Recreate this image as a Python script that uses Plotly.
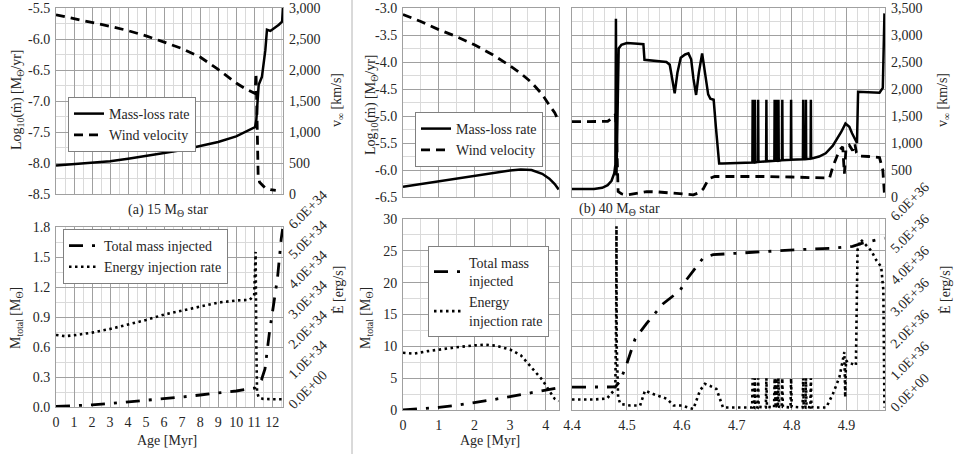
import plotly.graph_objects as go

# ---------------- (a) 15 Msun star ----------------
a_t_mdot = [0, 1, 2, 3, 4, 5, 6, 7, 8, 9, 10, 10.5, 11.05, 11.12, 11.19, 11.25, 11.43, 11.62, 11.71, 11.9, 12.37, 12.55, 12.6]
a_mdot = [-8.04, -8.02, -8.0, -7.97, -7.93, -7.89, -7.84, -7.79, -7.73, -7.66, -7.57, -7.5, -7.42, -7.30, -6.98, -6.74,
          -6.61, -6.18, -5.85, -5.87, -5.77, -5.72, -5.5]

a_t_vinf = [0, 1, 2, 3, 4, 5, 6, 7, 8, 9, 10, 10.5, 11.05, 11.1, 11.13, 11.17, 11.22, 11.3, 11.6, 11.9, 12.2]
a_vinf = [2890, 2830, 2770, 2705, 2635, 2550, 2450, 2345, 2210, 2010, 1790, 1700, 1620, 1950, 1650, 900, 300, 190, 100, 70, 60]

a_t_mass = [0, 1, 2, 3, 4, 5, 6, 7, 8, 9, 10, 11.05, 11.4, 11.6, 11.85, 12.1, 12.3, 12.5, 12.58]
a_mass = [0.005, 0.012, 0.022, 0.035, 0.05, 0.065, 0.085, 0.1, 0.12, 0.14, 0.16, 0.19, 0.27, 0.38, 0.75, 1.05, 1.3, 1.68, 1.78]

# energy injection rate in units of 1E+34 erg/s
a_t_edot = [0, 0.5, 1, 2, 3, 4, 5, 6, 7, 8, 9, 10, 10.75, 11.0, 11.08, 11.12, 11.16, 11.25, 11.5, 12.0, 12.55]
a_edot = [2.40, 2.36, 2.39, 2.48, 2.60, 2.74, 2.90, 3.08, 3.22, 3.36, 3.48, 3.55, 3.57, 3.72, 5.17, 2.0, 0.5, 0.32, 0.27,
          0.26, 0.26]

# ---------------- (b) 40 Msun star, early part (0 - 4.4 Myr) ----------------
b1_t = [0, 0.5, 1, 1.5, 2, 2.5, 3, 3.3, 3.6, 3.9, 4.1, 4.25, 4.36]
b1_mdot = [-6.31, -6.26, -6.2, -6.15, -6.1, -6.05, -6.01, -5.99, -6.0, -6.07, -6.16, -6.26, -6.36]
b1_vinf = [3380, 3250, 3100, 2970, 2820, 2640, 2430, 2290, 2120, 1900, 1700, 1560, 1410]

b1_t_mass = [0, 0.5, 1, 1.5, 2, 2.5, 3, 3.5, 4, 4.36]
b1_mass = [0, 0.15, 0.4, 0.75, 1.15, 1.6, 2.1, 2.6, 3.15, 3.5]

# energy injection rate in units of 1E+36 erg/s
b1_t_edot = [0, 0.3, 0.7, 1, 1.5, 2, 2.3, 2.6, 3, 3.3, 3.6, 3.9, 4.1, 4.25, 4.36]
b1_edot = [1.80, 1.77, 1.85, 1.90, 1.97, 2.03, 2.05, 2.02, 1.90, 1.72, 1.35, 0.95, 0.60, 0.35, 0.28]

# ---------------- (b) 40 Msun star, late part (4.4 - 4.97 Myr) ----------------
b2_t_mdot = [4.40, 4.44, 4.455, 4.465, 4.472, 4.477, 4.479, 4.480, 4.481, 4.483,
             4.485, 4.49, 4.50, 4.52, 4.53, 4.532, 4.55, 4.572, 4.578, 4.582,
             4.587, 4.592, 4.598, 4.606, 4.612, 4.617, 4.621, 4.626, 4.631, 4.637,
             4.643, 4.648, 4.652, 4.658, 4.662, 4.668, 4.674, 4.70,
             4.7285, 4.729, 4.7295,
             4.7325, 4.733, 4.7335,
             4.7385, 4.739, 4.7395,
             4.7535, 4.754, 4.7545,
             4.7685, 4.769, 4.7695,
             4.7715, 4.772, 4.7725,
             4.7755, 4.776, 4.7765,
             4.7825, 4.783, 4.7835,
             4.7985, 4.799, 4.7995,
             4.8205, 4.821, 4.8215,
             4.8255, 4.826, 4.8265,
             4.8345, 4.835, 4.8355,
             4.85, 4.862, 4.875, 4.89, 4.898, 4.905, 4.91, 4.915, 4.919, 4.921,
             4.94, 4.96, 4.966, 4.969]
b2_mdot = [-6.35, -6.35, -6.33, -6.28, -6.2, -6.06, -5.9, -3.2, -6.1, -4.5,
           -3.75, -3.68, -3.65, -3.66, -3.67, -3.96, -3.98, -4.0, -4.05, -4.3,
           -4.58, -4.2, -3.92, -3.86, -3.84, -3.95, -4.3, -4.61, -4.2, -3.84,
           -4.3, -4.6, -4.68, -4.7, -5.2, -5.88, -5.88, -5.87,
           -5.86, -4.7, -5.86,
           -5.86, -4.7, -5.86,
           -5.85, -4.7, -5.85,
           -5.84, -4.7, -5.84,
           -5.83, -4.7, -5.83,
           -5.83, -4.7, -5.83,
           -5.83, -4.7, -5.83,
           -5.82, -4.7, -5.82,
           -5.81, -4.7, -5.81,
           -5.80, -4.7, -5.80,
           -5.80, -4.7, -5.80,
           -5.79, -4.7, -5.79,
           -5.75, -5.69, -5.55, -5.3, -5.14, -5.2, -5.32, -5.42, -5.5, -4.55,
           -4.56, -4.57, -4.48, -3.1]

b2_t_vinf = [4.40, 4.44, 4.465, 4.475, 4.479, 4.481, 4.484, 4.49, 4.50, 4.52, 4.536, 4.555, 4.573, 4.60, 4.621,
             4.632, 4.639, 4.646, 4.651, 4.66, 4.70, 4.75, 4.80, 4.85, 4.869, 4.875, 4.887, 4.893, 4.896, 4.899,
             4.905, 4.911, 4.915, 4.918, 4.922, 4.94, 4.96, 4.966, 4.969]
b2_vinf = [1395, 1395, 1400, 1480, 1530, 1200, 100, 60, 40, 70, 100, 95, 80, 50, 40,
           80, 150, 280, 346, 380, 385, 380, 370, 355, 350, 560, 870, 930, 430, 900,
           960, 860, 990, 820, 760, 750, 730, 500, 60]

b2_t_mass = [4.40, 4.46, 4.479, 4.488, 4.50, 4.515, 4.536, 4.566, 4.597, 4.608, 4.627, 4.639, 4.657, 4.694, 4.75,
             4.815, 4.87, 4.911, 4.929, 4.969]
b2_mass = [3.6, 3.6, 3.62, 4.6, 7.3, 11.2, 13.6, 16.7, 18.8, 20.4, 22.5, 23.9, 24.4, 24.6, 24.9,
           25.2, 25.4, 25.7, 26.2, 27.0]

# energy injection rate in units of 1E+36 erg/s
b2_t_edot = [4.40, 4.44, 4.464, 4.47, 4.476, 4.479, 4.4805, 4.481, 4.4815, 4.484,
             4.488, 4.506, 4.524, 4.533, 4.548, 4.573, 4.585, 4.60, 4.621, 4.633,
             4.642, 4.651, 4.663, 4.675, 4.70, 4.726,
             4.728, 4.729, 4.730,
             4.732, 4.733, 4.734,
             4.738, 4.739, 4.740,
             4.753, 4.754, 4.755,
             4.768, 4.769, 4.770,
             4.771, 4.772, 4.773,
             4.775, 4.776, 4.777,
             4.782, 4.783, 4.784,
             4.798, 4.799, 4.800,
             4.820, 4.821, 4.822,
             4.825, 4.826, 4.827,
             4.834, 4.835, 4.836,
             4.84, 4.863, 4.875, 4.887, 4.896, 4.8975, 4.899, 4.902, 4.91, 4.917,
             4.92, 4.926, 4.935, 4.945, 4.954, 4.963, 4.967, 4.969]
b2_edot = [0.33, 0.33, 0.36, 0.5, 0.6, 0.82, 3.0, 5.77, 2.0, 0.4,
           0.19, 0.14, 0.14, 0.61, 0.5, 0.35, 0.14, 0.14, 0.03, 0.61,
           0.82, 0.76, 0.66, 0.08, 0.08, 0.08,
           0.08, 1.0, 0.1,
           0.08, 1.0, 0.1,
           0.08, 1.0, 0.1,
           0.08, 1.0, 0.1,
           0.08, 1.0, 0.1,
           0.08, 1.0, 0.1,
           0.08, 1.0, 0.1,
           0.08, 1.0, 0.1,
           0.08, 1.0, 0.1,
           0.08, 1.0, 0.1,
           0.08, 1.0, 0.1,
           0.08, 1.0, 0.1,
           0.08, 0.08, 0.5, 1.03, 1.82, 0.4, 1.56, 1.5, 1.45, 1.4,
           5.03, 5.35, 5.19, 5.0, 4.71, 4.5, 3.77, 0.08]

# ---------------- tick labels ----------------
a_mdot_ticks = [-8.5, -8.0, -7.5, -7.0, -6.5, -6.0, -5.5]
a_mdot_text = ["-8.5", "-8.0", "-7.5", "-7.0", "-6.5", "-6.0", "-5.5"]
b_mdot_ticks = [-6.5, -6.0, -5.5, -5.0, -4.5, -4.0, -3.5, -3.0]
b_mdot_text = ["-6.5", "-6.0", "-5.5", "-5.0", "-4.5", "-4.0", "-3.5", "-3.0"]
a_e_ticks = [0, 1e34, 2e34, 3e34, 4e34, 5e34, 6e34]
a_e_text = ["0.0E+00", "1.0E+34", "2.0E+34", "3.0E+34", "4.0E+34", "5.0E+34", "6.0E+34"]
b_e_ticks = [0, 1e36, 2e36, 3e36, 4e36, 5e36, 6e36]
b_e_text = ["0.0E+00", "1.0E+36", "2.0E+36", "3.0E+36", "4.0E+36", "5.0E+36", "6.0E+36"]

E34 = 1e34
E36 = 1e36

W, H = 954, 454
FONT = "Liberation Serif, Times New Roman, serif"
INK = "#262626"
MAJOR = "#a0a0a0"
MINOR = "#dadada"
tick_font = dict(family=FONT, size=14, color=INK)


def xd(a, b):
    return [a / W, b / W]


def yd(top, bot):
    return [1 - bot / H, 1 - top / H]


def x_axis(dom, anchor, rng, dtick, minor, labels, tick0=0, fmt=None):
    return dict(domain=dom, anchor=anchor, range=rng, tick0=tick0, dtick=dtick, tickformat=fmt,
                showgrid=True, gridcolor=MAJOR, gridwidth=1,
                minor=dict(tick0=tick0, dtick=minor, showgrid=True, gridcolor=MINOR, gridwidth=1),
                showticklabels=labels, ticks="", ticklabelstandoff=2, tickfont=tick_font,
                zeroline=False, showline=True, linecolor=MAJOR, mirror=True, automargin=False)


def y_left(dom, anchor, rng, dtick, minor, labels, vals=None, text=None, fmt=None):
    ax = dict(domain=dom, anchor=anchor, range=rng, tick0=rng[0], dtick=dtick, tickformat=fmt,
              showgrid=True, gridcolor=MAJOR, gridwidth=1,
              minor=dict(tick0=rng[0], dtick=minor, showgrid=True, gridcolor=MINOR, gridwidth=1),
              showticklabels=labels, ticks="", ticklabelstandoff=2, tickfont=tick_font,
              zeroline=False, showline=True, linecolor=MAJOR, mirror=True, automargin=False, side="left")
    if vals is not None:
        ax.update(tickmode="array", tickvals=vals, ticktext=text)
    return ax


def y_right(over, anchor, rng, labels, dtick=None, fmt=None, vals=None, text=None, angle=None):
    ax = dict(overlaying=over, anchor=anchor, side="right", range=rng, showgrid=False, zeroline=False,
              showline=False, showticklabels=labels, ticks="", ticklabelstandoff=5, tickfont=tick_font,
              automargin=False)
    if dtick is not None:
        ax.update(tick0=0, dtick=dtick, tickformat=fmt)
    if vals is not None:
        ax.update(tickmode="array", tickvals=vals, ticktext=text)
    if angle is not None:
        ax.update(tickangle=angle)
    return ax


solid = dict(color="black", width=2.5)
dashed = dict(color="black", width=2.8, dash="9px,6px")
dashdot = dict(color="black", width=2.8, dash="14px,9px,3px,9px")
dotted = dict(color="black", width=2.6, dash="2.5px,3.5px")

fig = go.Figure()

# (a) top
fig.add_trace(go.Scatter(x=a_t_mdot, y=a_mdot, mode="lines", line=solid, name="Mass-loss rate",
                         xaxis="x", yaxis="y", legend="legend"))
fig.add_trace(go.Scatter(x=a_t_vinf, y=a_vinf, mode="lines", line=dashed, name="Wind velocity",
                         xaxis="x", yaxis="y2", legend="legend"))
# (a) bottom
fig.add_trace(go.Scatter(x=a_t_mass, y=a_mass, mode="lines", line=dashdot, name="Total mass injected",
                         xaxis="x2", yaxis="y3", legend="legend2"))
fig.add_trace(go.Scatter(x=a_t_edot, y=[v * E34 for v in a_edot], mode="lines", line=dotted,
                         name="Energy injection rate", xaxis="x2", yaxis="y4", legend="legend2"))
# (b) top
fig.add_trace(go.Scatter(x=b1_t, y=b1_mdot, mode="lines", line=solid, name="Mass-loss rate",
                         xaxis="x3", yaxis="y5", legend="legend3"))
fig.add_trace(go.Scatter(x=b1_t, y=b1_vinf, mode="lines", line=dashed, name="Wind velocity",
                         xaxis="x3", yaxis="y6", legend="legend3"))
fig.add_trace(go.Scatter(x=b2_t_mdot, y=b2_mdot, mode="lines", line=solid, showlegend=False,
                         xaxis="x4", yaxis="y7"))
fig.add_trace(go.Scatter(x=b2_t_vinf, y=b2_vinf, mode="lines", line=dashed, showlegend=False,
                         xaxis="x4", yaxis="y8"))
# (b) bottom
fig.add_trace(go.Scatter(x=b1_t_mass, y=b1_mass, mode="lines", line=dashdot, name="Total mass<br>injected",
                         xaxis="x5", yaxis="y9", legend="legend4"))
fig.add_trace(go.Scatter(x=b1_t_edot, y=[v * E36 for v in b1_edot], mode="lines", line=dotted,
                         name="Energy<br>injection rate", xaxis="x5", yaxis="y10", legend="legend4"))
fig.add_trace(go.Scatter(x=b2_t_mass, y=b2_mass, mode="lines", line=dashdot, showlegend=False,
                         xaxis="x6", yaxis="y11"))
fig.add_trace(go.Scatter(x=b2_t_edot, y=[v * E36 for v in b2_edot], mode="lines", line=dotted, showlegend=False,
                         xaxis="x6", yaxis="y12"))

A_X = xd(56, 283)
A_TOP = yd(8, 194)
A_BOT = yd(227, 407)
B1_X = xd(403, 559)
B2_X = xd(572, 885)
B_TOP = yd(8, 197)
B_BOT = yd(219, 410)


def legend_box(x_px, y_px):
    return dict(x=x_px / W, y=1 - y_px / H, xanchor="left", yanchor="top", bgcolor="white",
                bordercolor="#808080", borderwidth=1, font=dict(family=FONT, size=14, color=INK),
                itemwidth=30, tracegroupgap=0, orientation="v")


def label(text, x, y, angle=0, size=14):
    return dict(text=text, x=x / W, y=1 - y / H, xref="paper", yref="paper", showarrow=False,
                textangle=angle, font=dict(family=FONT, size=size, color=INK),
                xanchor="center", yanchor="middle")


MDOT_T = "Log<sub>10</sub>(ṁ) [M<sub>Θ</sub>/yr]"
VINF_T = "v<sub>∞</sub> [km/s]"
MTOT_T = "M<sub>total</sub> [M<sub>Θ</sub>]"
EDOT_T = "Ė [erg/s]"

fig.update_layout(
    width=W, height=H, margin=dict(l=0, r=0, t=0, b=0), template="none",
    paper_bgcolor="white", plot_bgcolor="white",
    font=dict(family=FONT, size=14, color=INK),
    xaxis=x_axis(A_X, "y", [0, 12.6], 1, 0.5, False),
    yaxis=y_left(A_TOP, "x", [-8.5, -5.5], 0.5, 0.25, True, a_mdot_ticks, a_mdot_text),
    yaxis2=y_right("y", "x", [0, 3000], True, dtick=500, fmt=","),
    xaxis2=x_axis(A_X, "y3", [0, 12.6], 1, 0.5, True),
    yaxis3=y_left(A_BOT, "x2", [0, 1.8], 0.3, 0.15, True, fmt=".1f"),
    yaxis4=y_right("y3", "x2", [0, 6e34], True, vals=a_e_ticks, text=a_e_text, angle=-45),
    xaxis3=x_axis(B1_X, "y5", [0, 4.37], 1, 0.5, False),
    yaxis5=y_left(B_TOP, "x3", [-6.5, -3.0], 0.5, 0.25, True, b_mdot_ticks, b_mdot_text),
    yaxis6=y_right("y5", "x3", [0, 3500], False),
    xaxis4=x_axis(B2_X, "y7", [4.4, 4.97], 0.1, 0.02, False, tick0=4.4),
    yaxis7=y_left(B_TOP, "x4", [-6.5, -3.0], 0.5, 0.25, False),
    yaxis8=y_right("y7", "x4", [0, 3500], True, dtick=500, fmt=","),
    xaxis5=x_axis(B1_X, "y9", [0, 4.37], 1, 0.5, True),
    yaxis9=y_left(B_BOT, "x5", [0, 30], 5, 2.5, True),
    yaxis10=y_right("y9", "x5", [0, 6e36], False),
    xaxis6=x_axis(B2_X, "y11", [4.4, 4.97], 0.1, 0.02, True, tick0=4.4, fmt=".1f"),
    yaxis11=y_left(B_BOT, "x6", [0, 30], 5, 2.5, False),
    yaxis12=y_right("y11", "x6", [0, 6e36], True, vals=b_e_ticks, text=b_e_text, angle=-45),
    legend=legend_box(68, 97),
    legend2=legend_box(63, 229),
    legend3=legend_box(415, 112),
    legend4=legend_box(428, 246),
    shapes=[dict(type="line", xref="paper", yref="paper", x0=352 / W, x1=352 / W, y0=0, y1=1,
                 line=dict(color="#b4b4b4", width=1))],
    annotations=[
        label("(a) 15 M<sub>Θ</sub> star", 168, 211),
        label("(b) 40 M<sub>Θ</sub> star", 619, 209),
        label(MDOT_T, 18, 100, -90),
        label(VINF_T, 338, 100, -90),
        label(MTOT_T, 16, 318, -90),
        label(EDOT_T, 338, 290, -90),
        label("Age [Myr]", 167, 440),
        label(MDOT_T, 371, 105, -90),
        label(VINF_T, 944, 100, -90),
        label(MTOT_T, 366, 318, -90),
        label(EDOT_T, 945, 290, -90),
        label("Age [Myr]", 490, 440),
    ],
)

# drop the browser's default 8px page margin so the figure fills the window,
# and hide the hover toolbar so it does not cover the top right labels
fig.write_html("out.html", config={"displayModeBar": False},
               post_script="document.body.style.margin = '0px';")
